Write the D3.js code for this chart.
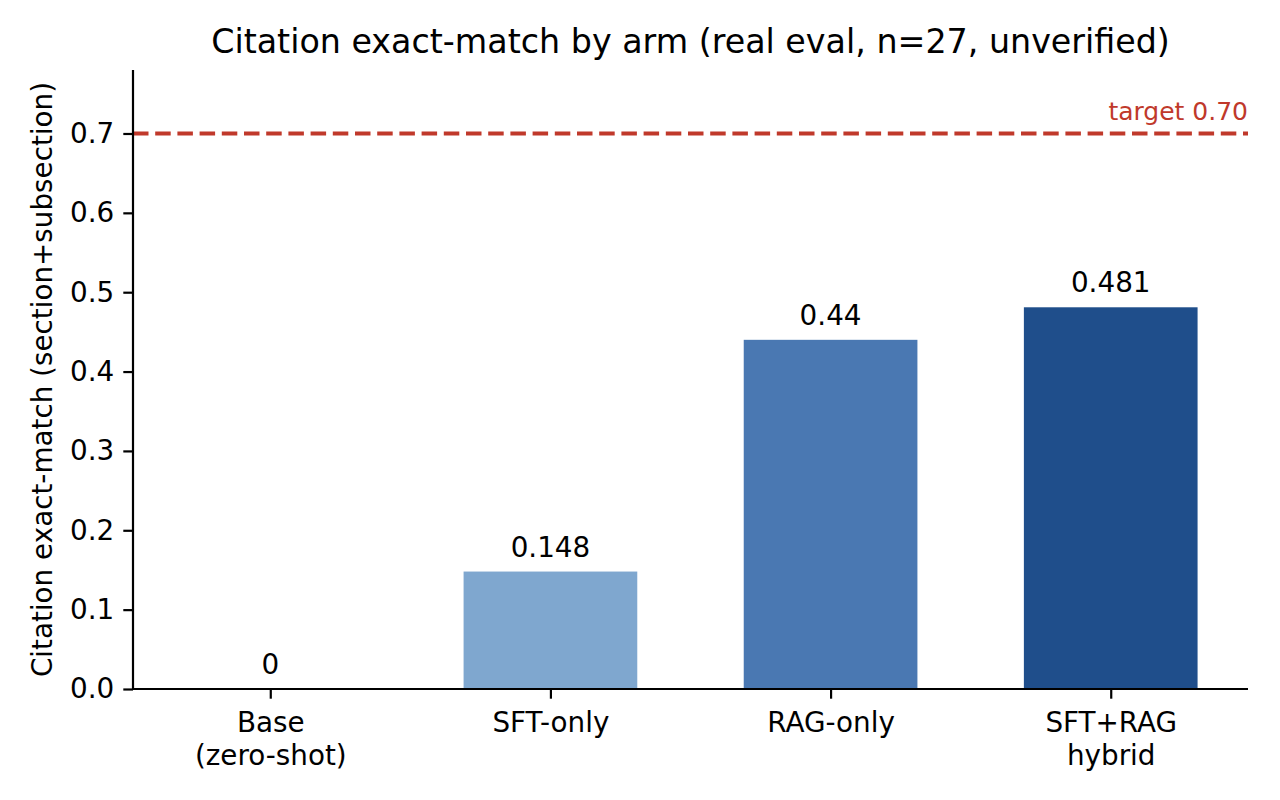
<!DOCTYPE html>
<html>
<head>
<meta charset="utf-8">
<script src="https://cdn.jsdelivr.net/npm/d3@7"></script>
<style>
  body { margin: 0; background: #fff; }
  svg { display: block; font-family: "DejaVu Sans", sans-serif; }
</style>
</head>
<body>
<svg id="chart" width="1280" height="800"></svg>
<script>
// chart data
const arms = ["Base\n(zero-shot)", "SFT-only", "RAG-only", "SFT+RAG\nhybrid"];
const scores = [0, 0.148, 0.44, 0.481];
const valueLabels = ["0", "0.148", "0.44", "0.481"];
const barColors = ["#7fa7cf", "#7fa7cf", "#4a78b2", "#1f4e8b"];
const yTicks = [0, 0.1, 0.2, 0.3, 0.4, 0.5, 0.6, 0.7];
const target = 0.70;

const margin = { top: 70, right: 32, bottom: 111, left: 133 };
const width = 1280, height = 800;
const svg = d3.select("#chart");

const x = d3.scaleLinear()
    .domain([-0.49, arms.length - 0.51])
    .range([margin.left, width - margin.right]);
const y = d3.scaleLinear()
    .domain([0, 0.78])
    .range([height - margin.bottom, margin.top]);

const barW = x(0.62) - x(0);

// bars
svg.append("g")
    .selectAll("rect")
    .data(scores)
    .join("rect")
    .attr("x", (d, i) => x(i) - barW / 2)
    .attr("y", d => y(d))
    .attr("width", barW)
    .attr("height", d => y(0) - y(d))
    .attr("fill", (d, i) => barColors[i]);

// value labels
svg.append("g")
    .selectAll("text")
    .data(scores)
    .join("text")
    .attr("x", (d, i) => x(i))
    .attr("y", d => y(d) - 15)
    .attr("text-anchor", "middle")
    .attr("font-size", 27.8)
    .text((d, i) => valueLabels[i]);

// target line
svg.append("line")
    .attr("x1", x.range()[0])
    .attr("x2", x.range()[1])
    .attr("y1", y(target))
    .attr("y2", y(target))
    .attr("stroke", "#c0392b")
    .attr("stroke-width", 4)
    .attr("stroke-dasharray", "15.5,6.7");

svg.append("text")
    .attr("x", x.range()[1])
    .attr("y", y(target) - 13)
    .attr("text-anchor", "end")
    .attr("font-size", 25)
    .attr("fill", "#c0392b")
    .text("target " + target.toFixed(2));

// y axis
const yAxis = svg.append("g")
    .attr("transform", `translate(${margin.left},0)`)
    .call(d3.axisLeft(y).tickValues(yTicks).tickFormat(d3.format(".1f")).tickSize(9.7).tickPadding(9));
yAxis.select(".domain").attr("stroke-width", 2.2).attr("d", `M0,${y(0)}V${margin.top}`);
yAxis.selectAll(".tick line").attr("stroke-width", 2.2);
yAxis.selectAll(".tick text").attr("font-size", 27.8).attr("font-family", "DejaVu Sans").attr("fill", "#000");

// x axis
const xAxis = svg.append("g")
    .attr("transform", `translate(0,${y(0)})`)
    .call(d3.axisBottom(x).tickValues(d3.range(arms.length)).tickFormat("").tickSize(9.7));
xAxis.select(".domain").attr("stroke-width", 2.2).attr("d", `M${x.range()[0]},0H${x.range()[1]}`);
xAxis.selectAll(".tick line").attr("stroke-width", 2.2);

xAxis.selectAll(".tick")
    .append("text")
    .attr("fill", "#000")
    .attr("font-size", 27.8)
    .attr("font-family", "DejaVu Sans")
    .attr("text-anchor", "middle")
    .each(function(d) {
        const lines = arms[d].split("\n");
        d3.select(this).selectAll("tspan")
            .data(lines)
            .join("tspan")
            .attr("x", 0)
            .attr("y", (l, j) => 43 + j * 33)
            .text(l => l);
    });

// y label
svg.append("text")
    .attr("transform", `translate(52,${(y(0) + margin.top) / 2}) rotate(-90)`)
    .attr("text-anchor", "middle")
    .attr("font-size", 27.8)
    .text("Citation exact-match (section+subsection)");

// title
svg.append("text")
    .attr("x", (x.range()[0] + x.range()[1]) / 2)
    .attr("y", 53)
    .attr("text-anchor", "middle")
    .attr("font-size", 33.3)
    .text("Citation exact-match by arm (real eval, n=27, unverified)");
</script>
</body>
</html>
